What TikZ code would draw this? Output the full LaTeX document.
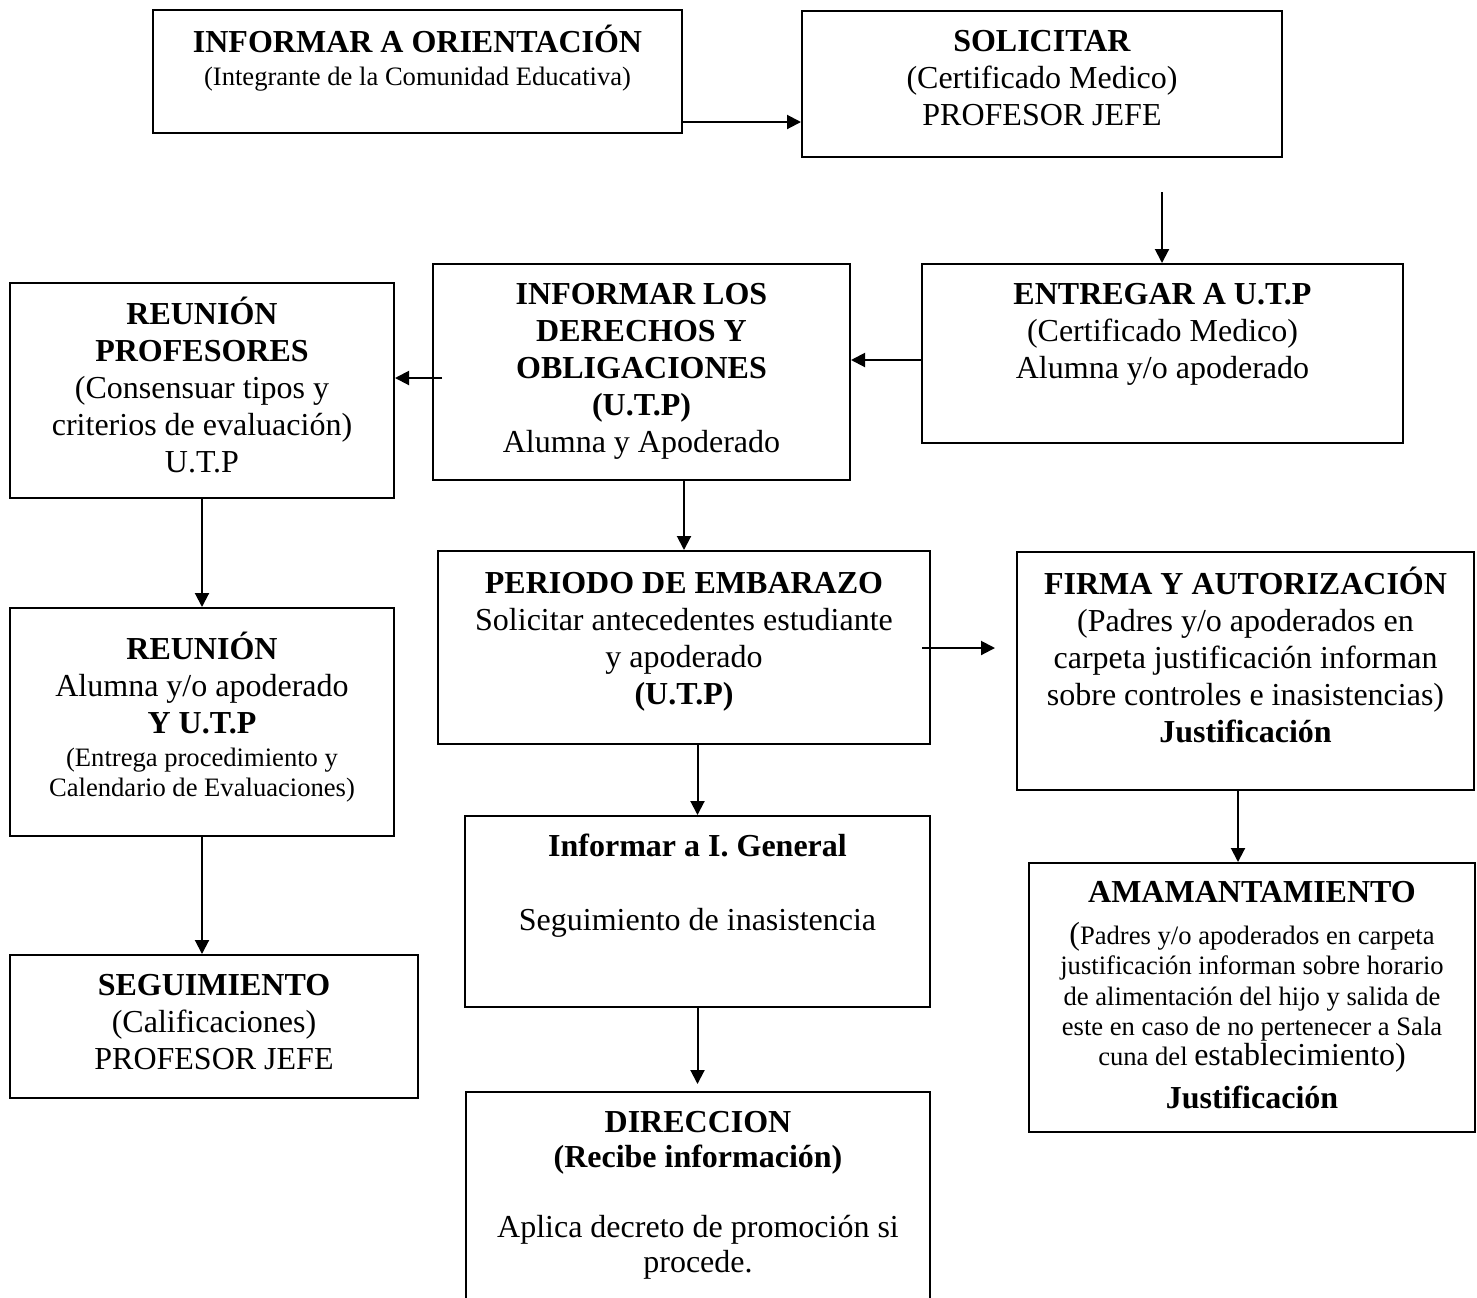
\documentclass[tikz,border=0pt]{standalone}
\usepackage{fontspec}
\setmainfont{Liberation Serif}
\usetikzlibrary{positioning,fit,arrows.meta}
\newcommand{\fs}{\fontsize{16}{18.5}\selectfont}
\newcommand{\sm}{\fontsize{13.3}{15.2}\selectfont}
\newcommand{\hd}[1]{\strut\textbf{#1}}
\tikzset{caja/.style={draw,line width=1pt,inner sep=0pt},
  txt/.style={align=center,inner sep=0pt,font=\fs}}

\begin{document}
\begin{tikzpicture}[x=0.5pt,y=-0.5pt,>={Triangle[length=7pt,width=7pt]},line width=1pt]
    \clip (0,0) rectangle (1477,1297);

    % cajas
    \node[caja,fit={(153,10) (682,133)}] (b1) {};
    \node[caja,fit={(802,11) (1282,157)}] (b2) {};
    \node[caja,fit={(922,264) (1403,443)}] (b3) {};
    \node[caja,fit={(433,264) (850,480)}] (b4) {};
    \node[caja,fit={(10,283) (394,498)}] (b5) {};
    \node[caja,fit={(10,608) (394,836)}] (b6) {};
    \node[caja,fit={(10,955) (418,1098)}] (b7) {};
    \node[caja,fit={(438,551) (930,744)}] (b8) {};
    \node[caja,fit={(1017,552) (1474,790)}] (b9) {};
    \node[caja,fit={(1029,863) (1475,1132)}] (b10) {};
    \node[caja,fit={(465,816) (930,1007)}] (b11) {};
    \node[caja,fit={(466,1092) (930,1320)}] (b12) {};

    % textos
    \node[txt,below=7.5pt of b1.north] (t1) {\hd{INFORMAR A ORIENTACIÓN}\\[-2pt] {\sm (Integrante de la Comunidad Educativa)}};
    \node[txt,below=7.5pt of b2.north] (t2) {\hd{SOLICITAR}\\ (Certificado Medico)\\ PROFESOR JEFE};
    \node[txt,below=7.5pt of b3.north] (t3) {\hd{ENTREGAR A U.T.P}\\ (Certificado Medico)\\ Alumna y/o apoderado};
    \node[txt,below=7.5pt of b4.north] (t4) {\hd{INFORMAR LOS}\\ \textbf{DERECHOS Y}\\ \textbf{OBLIGACIONES}\\ \textbf{(U.T.P)}\\ Alumna y Apoderado};
    \node[txt,below=7pt of b5.north] (t5) {\hd{REUNIÓN}\\ \textbf{PROFESORES}\\ (Consensuar tipos y\\ criterios de evaluación)\\ U.T.P};
    \node[txt,below=12pt of b6.north] (t6) {\hd{REUNIÓN}\\ Alumna y/o apoderado\\ \textbf{Y U.T.P}\\[-2pt] {\sm (Entrega procedimiento y}\\[-3.5pt] {\sm Calendario de Evaluaciones)}};
    \node[txt,below=7.5pt of b7.north] (t7) {\hd{SEGUIMIENTO}\\ (Calificaciones)\\ PROFESOR JEFE};
    \node[txt,below=8.5pt of b8.north] (t8) {\hd{PERIODO DE EMBARAZO}\\ Solicitar antecedentes estudiante\\ y apoderado\\ \textbf{(U.T.P)}};
    \node[txt,below=7.5pt of b9.north] (t9) {\hd{FIRMA Y AUTORIZACIÓN}\\ (Padres y/o apoderados en\\ carpeta justificación informan\\ sobre controles e inasistencias)\\ \textbf{Justificación}};
    \node[txt,font=\sm,below=7pt of b10.north] (t10) {{\fs\hd{AMAMANTAMIENTO}}\\[3pt] {\fs(}Padres y/o apoderados en carpeta\\ justificación informan sobre horario\\ de alimentación del hijo y salida de\\ este en caso de no pertenecer a Sala\\ cuna del {\fs establecimiento)}\\[6pt] {\fs\textbf{Justificación}}};
    \node[txt,below=7.5pt of b11.north] (t11) {\hd{Informar a I. General}\\ \mbox{}\\ Seguimiento de inasistencia};
    \node[txt,below=7.5pt of b12.north] (t12) {\hd{DIRECCION}\\[-1pt] \textbf{(Recibe información)}\\ \mbox{}\\[-2pt] Aplica decreto de promoción si\\[-1pt] procede.};

    % flechas
    \coordinate (h12) at (0,122);
    \coordinate (s23) at (1162,192);
    \coordinate (h34) at (0,360);
    \coordinate (s45) at (442,378);
    \coordinate (s89) at (922,648);
    \coordinate (e89) at (995,648);
    \coordinate (v910) at (1238,0);
    \coordinate (e1112) at (697.5,1084);

    \draw[->] (b1.east |- h12) -- (b2.west |- h12);
    \draw[->] (s23) -- (s23 |- b3.north);
    \draw[->] (b3.west |- h34) -- (b4.east |- h34);
    \draw[->] (s45) -- (s45 -| b5.east);
    \draw[->] (b5) -- (b6);
    \draw[->] (b6.south) -- (b6.south |- b7.north);
    \draw[->] (b4.south -| b8.north) -- (b8.north);
    \draw[->] (s89) -- (e89);
    \draw[->] (b9.south -| v910) -- (b10.north -| v910);
    \draw[->] (b8.south -| b11.north) -- (b11.north);
    \draw[->] (b11.south) -- (e1112);
\end{tikzpicture}
\end{document}
